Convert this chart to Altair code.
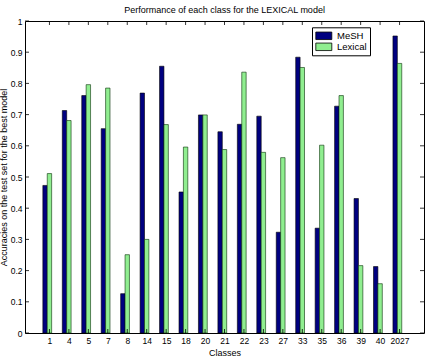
import altair as alt
import pandas as pd

classes = ["1", "4", "5", "7", "8", "14", "15", "18", "20", "21", "22", "23",
           "27", "33", "35", "36", "39", "40", "2027"]
mesh = [0.473, 0.713, 0.761, 0.655, 0.126, 0.769, 0.855, 0.452, 0.699, 0.645,
        0.669, 0.695, 0.323, 0.884, 0.336, 0.727, 0.431, 0.213, 0.952]
lexical = [0.511, 0.681, 0.796, 0.785, 0.251, 0.300, 0.668, 0.596, 0.699, 0.588,
           0.836, 0.579, 0.562, 0.851, 0.602, 0.761, 0.216, 0.158, 0.864]
series = ["MeSH", "Lexical"]
colors = ["#000080", "#90ee90"]
y_ticks = [0, 0.1, 0.2, 0.3, 0.4, 0.5, 0.6, 0.7, 0.8, 0.9, 1]

rows = []
for i, c in enumerate(classes):
    rows.append({"cls": c, "pos": i + 1, "series": "MeSH", "value": mesh[i]})
    rows.append({"cls": c, "pos": i + 1, "series": "Lexical", "value": lexical[i]})
df = pd.DataFrame(rows)
xt = pd.DataFrame({"pos": list(range(1, len(classes) + 1))})
yt = pd.DataFrame({"value": y_ticks})

W, H = 399, 312
FONT = "Liberation Sans"
xscale = alt.Scale(domain=[0, 20], nice=False, zero=False)
yscale = alt.Scale(domain=[0, 1], nice=False)
label_expr = "[" + ",".join(f"'{c}'" for c in classes) + "][datum.value - 1]"

color = alt.Color(
    "series:N",
    scale=alt.Scale(domain=series, range=colors),
    legend=alt.Legend(
        title=None, orient="none", legendX=287, legendY=6.3,
        fillColor="white", strokeColor="black", padding=3,
        symbolType="M-0.94,-0.75H2.26V0.75H-0.94Z", symbolSize=100,
        symbolStrokeColor="black", symbolStrokeWidth=0.8, symbolOpacity=1,
        labelFont=FONT, labelFontSize=9.5, labelColor="black", labelOffset=11,
        rowPadding=0,
    ),
)

x_enc = alt.X("pos:Q", scale=xscale,
              axis=alt.Axis(values=list(range(1, len(classes) + 1)), labelExpr=label_expr,
                            title="Classes", titleY=22, titleBaseline="alphabetic",
                            labelPadding=3))
y_enc = alt.Y("value:Q", scale=yscale,
              axis=alt.Axis(values=y_ticks, format="~g",
                            title="Accuracies on the test set for the best model",
                            titleX=-17, titleY=H / 2, titleAngle=-90,
                            titleBaseline="bottom", titleAlign="center",
                            labelPadding=3))

base = alt.Chart(df)
mesh_bars = base.transform_filter(alt.datum.series == "MeSH").mark_bar(
    width=4.4, xOffset=-4.4, stroke="black", strokeWidth=0.6
).encode(x=x_enc, y=y_enc, color=color)
lex_bars = base.transform_filter(alt.datum.series == "Lexical").mark_bar(
    width=4.4, xOffset=0, stroke="#063006", strokeWidth=0.6
).encode(x=x_enc, y=y_enc, color=color)

tick_bottom = alt.Chart(xt).mark_rule(color="black", strokeWidth=0.8).encode(
    x=x_enc, y=alt.value(H), y2=alt.value(H - 4))
tick_top = alt.Chart(xt).mark_rule(color="black", strokeWidth=0.8).encode(
    x=x_enc, y=alt.value(0), y2=alt.value(4))
tick_left = alt.Chart(yt).mark_rule(color="black", strokeWidth=0.8).encode(
    y=y_enc, x=alt.value(0), x2=alt.value(4))
tick_right = alt.Chart(yt).mark_rule(color="black", strokeWidth=0.8).encode(
    y=y_enc, x=alt.value(W), x2=alt.value(W - 4))

chart = alt.layer(
    mesh_bars, lex_bars, tick_bottom, tick_top, tick_left, tick_right
).properties(
    width=W, height=H,
    title=alt.TitleParams("Performance of each class  for the LEXICAL model",
                          font=FONT, fontSize=9, fontWeight="normal",
                          anchor="middle", baseline="alphabetic", offset=7.7,
                          frame="group", dy=13, color="black"),
    autosize=alt.AutoSizeParams(type="none"),
    padding={"left": 25, "top": 21, "right": 2, "bottom": 25},
).configure_view(
    stroke="black", strokeWidth=1
).configure_axis(
    grid=False, ticks=False, domain=False,
    labelFont=FONT, labelFontSize=8.5, labelColor="black",
    titleFont=FONT, titleFontSize=9, titleFontWeight="normal", titleColor="black",
)

chart.save("out.html", embed_options={"renderer": "svg", "actions": False})
